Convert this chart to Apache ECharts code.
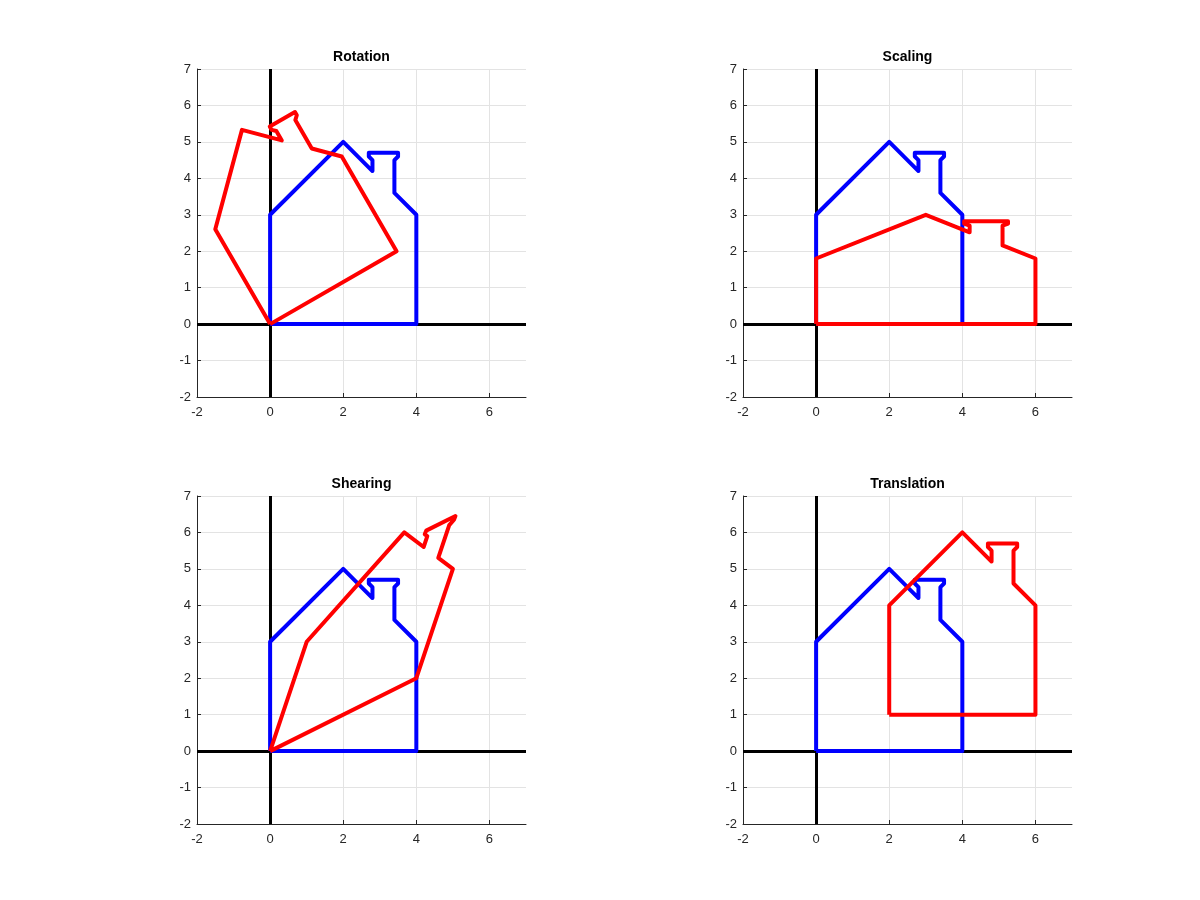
<!DOCTYPE html>
<html>
<head>
<meta charset="utf-8">
<title>Transformations</title>
<script src="https://cdn.jsdelivr.net/npm/echarts@6/dist/echarts.min.js"></script>
<style>
  html, body { margin: 0; padding: 0; background: #ffffff; }
  #main { width: 1200px; height: 900px; }
</style>
</head>
<body>
<div id="main"></div>
<script>
// panel titles
var titles = ['Rotation', 'Scaling', 'Shearing', 'Translation'];

// original house outline (blue), [x, y]
var house = [[0, 0], [4, 0], [4, 3], [3.4, 3.6], [3.4, 4.5], [3.5, 4.6], [3.5, 4.7],
             [2.7, 4.7], [2.7, 4.6], [2.8, 4.5], [2.8, 4.2], [2, 5], [0, 3], [0, 0]];

// transformed outlines (red)
var rotated = [[0, 0], [3.46, 2], [1.96, 4.6], [1.14, 4.82], [0.69, 5.6], [0.73, 5.73], [0.68, 5.82],
               [-0.01, 5.42], [0.04, 5.33], [0.17, 5.3], [0.32, 5.04], [-0.77, 5.33], [-1.5, 2.6], [0, 0]];
var scaled = [[0, 0], [6, 0], [6, 1.8], [5.1, 2.16], [5.1, 2.7], [5.25, 2.76], [5.25, 2.82],
              [4.05, 2.82], [4.05, 2.76], [4.2, 2.7], [4.2, 2.52], [3, 3], [0, 1.8], [0, 0]];
var sheared = [[0, 0], [4, 2], [5, 5], [4.6, 5.3], [4.9, 6.2], [5.03, 6.35], [5.07, 6.45],
               [4.27, 6.05], [4.23, 5.95], [4.3, 5.9], [4.2, 5.6], [3.67, 6], [1, 3], [0, 0]];
var translated = [[2, 1], [6, 1], [6, 4], [5.4, 4.6], [5.4, 5.5], [5.5, 5.6], [5.5, 5.7],
                  [4.7, 5.7], [4.7, 5.6], [4.8, 5.5], [4.8, 5.2], [4, 6], [2, 4], [2, 1]];
var redShapes = [rotated, scaled, sheared, translated];

// axis ranges / tick steps
var xRange = [-2, 7];
var yRange = [-2, 7];
var xStep = 2;
var yStep = 1;

var chart = echarts.init(document.getElementById('main'));

// subplot boxes (px)
var lefts = [197, 743, 197, 743];
var tops = [69, 69, 496, 496];
var W = 329, H = 328;

var grids = [], xAxes = [], yAxes = [], series = [], titleList = [];
var axisCol = '#262626';

for (var i = 0; i < 4; i++) {
    grids.push({ left: lefts[i], top: tops[i], width: W, height: H, containLabel: false });
    titleList.push({
        text: titles[i],
        left: lefts[i] + W / 2,
        top: tops[i] - 19,
        padding: 0,
        textAlign: 'center',
        textStyle: { fontFamily: 'Liberation Sans', fontSize: 14, fontWeight: 'bold', color: '#000' }
    });
    xAxes.push({
        type: 'value', gridIndex: i, min: xRange[0], max: xRange[1], interval: xStep,
        axisLine: { show: true, onZero: false, lineStyle: { color: axisCol, width: 1 } },
        axisTick: { show: true, inside: true, length: 4, lineStyle: { color: axisCol } },
        axisLabel: { showMaxLabel: false, color: axisCol, fontFamily: 'Liberation Sans', fontSize: 13, margin: 9 },
        splitLine: { show: true, showMaxLine: false, lineStyle: { color: '#e3e3e3', width: 1 } }
    });
    yAxes.push({
        type: 'value', gridIndex: i, min: yRange[0], max: yRange[1], interval: yStep,
        axisLine: { show: true, onZero: false, lineStyle: { color: axisCol, width: 1 } },
        axisTick: { show: true, inside: true, length: 4, lineStyle: { color: axisCol } },
        axisLabel: { color: axisCol, fontFamily: 'Liberation Sans', fontSize: 13, margin: 6 },
        splitLine: { show: true, lineStyle: { color: '#e3e3e3', width: 1 } }
    });
    // black x=0 / y=0 reference lines, kept under the houses
    series.push({
        type: 'line', xAxisIndex: i, yAxisIndex: i, data: [], silent: true, z: 1,
        markLine: {
            silent: true, z: 1, symbol: ['none', 'none'], label: { show: false },
            lineStyle: { color: '#000', width: 3, type: 'solid' },
            emphasis: { disabled: true },
            data: [{ xAxis: 0 }, { yAxis: 0 }]
        }
    });
    series.push({
        type: 'line', xAxisIndex: i, yAxisIndex: i, data: house, z: 3,
        showSymbol: false, symbol: 'none', silent: true,
        lineStyle: { color: '#0000ff', width: 4, join: 'round' }
    });
    series.push({
        type: 'line', xAxisIndex: i, yAxisIndex: i, data: redShapes[i], z: 4,
        showSymbol: false, symbol: 'none', silent: true,
        lineStyle: { color: '#ff0000', width: 4, join: 'round' }
    });
}

chart.setOption({
    backgroundColor: '#ffffff',
    animation: false,
    title: titleList,
    grid: grids,
    xAxis: xAxes,
    yAxis: yAxes,
    series: series
});
</script>
</body>
</html>
